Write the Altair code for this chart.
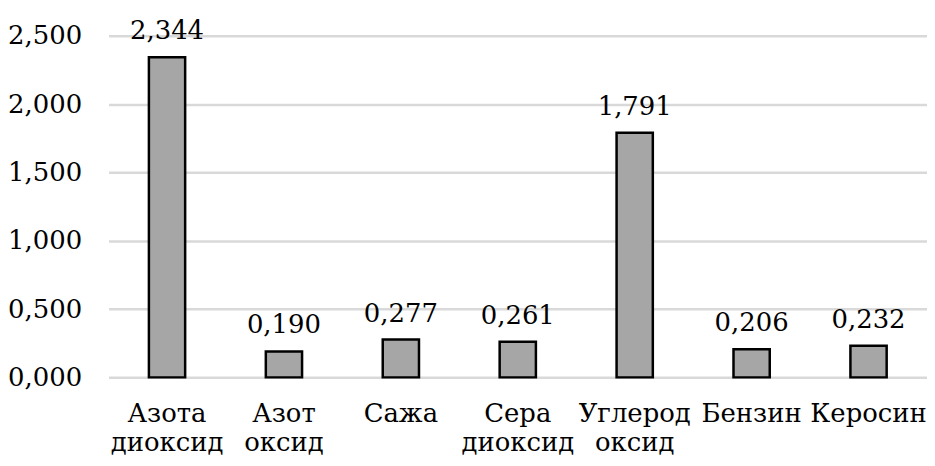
import altair as alt
import pandas as pd

categories = ["Азота|диоксид", "Азот|оксид", "Сажа", "Сера|диоксид", "Углерод|оксид", "Бензин", "Керосин"]
values = [2.344, 0.190, 0.277, 0.261, 1.791, 0.206, 0.232]
y_ticks = [0, 0.5, 1.0, 1.5, 2.0, 2.5]

df = pd.DataFrame({"cat": categories, "val": values})

FONT = "DejaVu Serif"
FS = 26

base = alt.Chart(df).encode(
    x=alt.X("cat:N", sort=categories, title=None,
            scale=alt.Scale(paddingInner=0.69, paddingOuter=0.345),
            axis=alt.Axis(labelExpr="split(datum.value, '|')", labelAngle=0,
                          labelLineHeight=29, labelPadding=23, labelBaseline="top",
                          labelLimit=0, labelOverlap=False,
                          domain=False, ticks=False, grid=False)),
    y=alt.Y("val:Q", title=None,
            scale=alt.Scale(domain=[0, 2.5], nice=False),
            axis=alt.Axis(values=y_ticks,
                          labelExpr="replace(format(datum.value, '.3f'), '.', ',')",
                          labelPadding=27, domain=False, ticks=False,
                          grid=True, gridColor="#d9d9d9", gridWidth=2.5)),
)

bars = base.mark_bar(fill="#a6a6a6", stroke="#000000", strokeWidth=2.5)

labels = base.transform_calculate(
    lbl="replace(format(datum.val, '.3f'), '.', ',')"
).mark_text(baseline="alphabetic", dy=-18).encode(
    text="lbl:N"
)

chart = (bars + labels).properties(
    width=822, height=343,
    autosize=alt.AutoSizeParams(type="none"),
    padding={"left": 101, "top": 27, "right": 0, "bottom": 80},
).configure(
    font=FONT,
).configure_axis(
    labelFont=FONT, labelFontSize=FS, labelColor="#000000",
).configure_text(
    font=FONT, fontSize=FS, color="#000000",
).configure_view(stroke=None)

chart.save("out.html", embed_options={"renderer": "svg", "actions": False})
